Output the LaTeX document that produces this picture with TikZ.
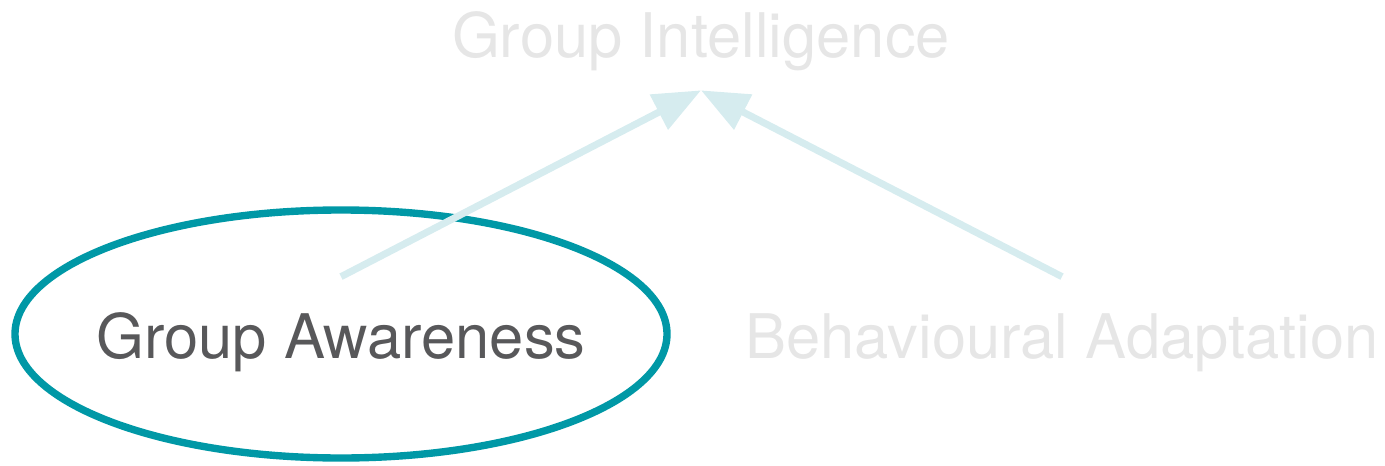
\documentclass[tikz,border=0pt]{standalone}
\usepackage{fontspec}
\setmainfont{TeX Gyre Heros}
\usetikzlibrary{arrows.meta,shapes.geometric}
\definecolor{ringteal}{HTML}{0098A6}
\definecolor{linkcyan}{HTML}{D6ECEF}
\definecolor{mutedgrey}{HTML}{E6E6E6}
\definecolor{labelgrey}{HTML}{58585A}
\begin{document}
\begin{tikzpicture}[x=0.02cm, y=-0.02cm]
% Set the frame to the picture size
\useasboundingbox (0, 0) rectangle (1385, 466);

% Styles for the concept labels and the links
\tikzset{
  concept/.style={inner sep=0pt, anchor=base, text height=1.62cm, text depth=0.64cm,
    font=\fontsize{35}{40}\selectfont},
  faded/.style={concept, text=mutedgrey},
  active/.style={concept, text=labelgrey},
  link/.style={draw=linkcyan, line width=4pt, -{Triangle[length=0.95cm, width=0.76cm]}}
}

% Insert the concepts (placed at their baselines)
\node[faded] (intel) at (701, 58) {Group Intelligence};
\node[active] (aware) at (341, 358) {Group Awareness};
\node[faded] (adapt) at (1062, 358) {Behavioural Adaptation};

% Draw the ring round the selected concept
\draw[ringteal, line width=4.2pt] (341, 334) ellipse [x radius=326, y radius=124];

% Draw the links
\draw[link] (aware.north) -- (intel.south);
\draw[link] (adapt.north) -- (intel.south);
\end{tikzpicture}
\end{document}
